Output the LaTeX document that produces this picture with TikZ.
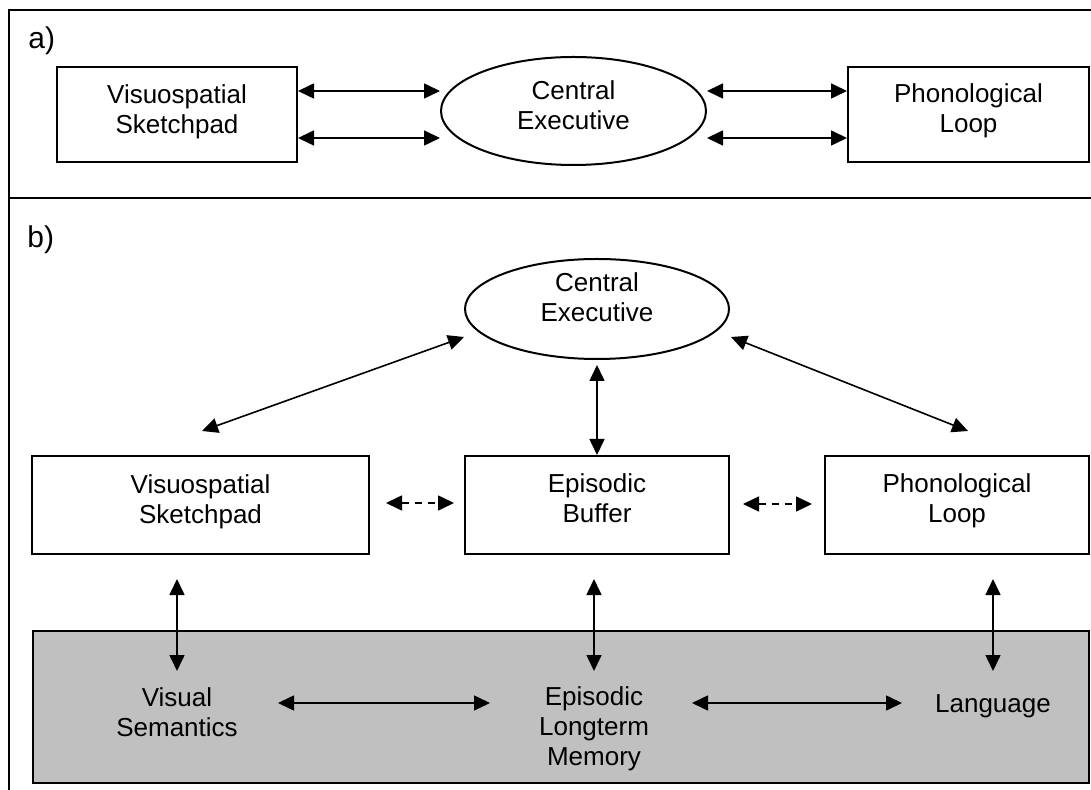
\documentclass[tikz,border=0pt]{standalone}
\usepackage{fontspec}
\setmainfont{Liberation Sans}
\usetikzlibrary{arrows.meta,shapes.geometric,calc}
\definecolor{shade}{HTML}{C0C0C0}

\begin{document}
\begin{tikzpicture}[x=0.5pt,y=-0.5pt,
  txt/.style={font=\fontsize{13}{15}\selectfont},
  box/.style={draw,line width=1pt,rectangle,inner sep=0pt},
  oval/.style={draw,line width=1pt,ellipse,inner sep=0pt},
  lbl/.style={align=center,inner sep=0pt,txt},
  inside/.style 2 args={label={[lbl,yshift=#1]center:{#2}}},
  panel/.style={inner sep=0pt,font=\fontsize{15}{18}\selectfont},
  frame/.style={line width=1pt},
  link/.style={line width=0.8pt,{Triangle[length=8pt,width=7.5pt]}-{Triangle[length=8pt,width=7.5pt]}},
  dlink/.style={link,dash pattern=on 3.5pt off 3pt}]

\useasboundingbox (0,0) rectangle (1091,790);
\clip (0,0) rectangle (1091,790);

% outer frame and divider between the two panels
\draw[frame] (1100,10) -- (9,10) -- (9,800);
\draw[frame] (9,198) -- (1100,198);

% ---------- panel a ----------
\node[panel,anchor=base west] (labA) at (28,49) {a)};
\node[box,minimum width=120pt,minimum height=47.5pt,inside={1.5pt}{Visuospatial\\Sketchpad}] (vsA) at (177,114.5) {};
\node[oval,minimum width=132.5pt,minimum height=54pt,inside={3pt}{Central\\Executive}] (ceA) at (573.5,111) {};
\node[box,minimum width=120.5pt,minimum height=47.5pt,inside={2pt}{Phonological\\Loop}] (phA) at (968.5,114.5) {};

\coordinate (rA1) at (0,91);
\coordinate (rA2) at (0,138);
\draw[link] (vsA.east |- rA1) -- (ceA.west |- rA1);
\draw[link] (vsA.east |- rA2) -- (ceA.west |- rA2);
\draw[link] (ceA.east |- rA1) -- (phA.west |- rA1);
\draw[link] (ceA.east |- rA2) -- (phA.west |- rA2);

% ---------- panel b ----------
\node[panel,anchor=base west] (labB) at (27,248) {b)};
\node[oval,minimum width=132pt,minimum height=50pt,inside={6pt}{Central\\Executive}] (ceB) at (597,309) {};
\node[box,minimum width=168.5pt,minimum height=49pt,inside={1.5pt}{Visuospatial\\Sketchpad}] (vsB) at (200.5,505) {};
\node[box,minimum width=132pt,minimum height=49pt,inside={3.5pt}{Episodic\\Buffer}] (ebB) at (597,505) {};
\node[box,minimum width=132pt,minimum height=49pt,inside={2pt}{Phonological\\Loop}] (plB) at (957,505) {};

% long-term memory band
\node[draw,fill=shade,line width=1pt,inner sep=0pt,minimum width=528pt,minimum height=76pt] (ltm) at (561,707) {};
\node[lbl] (visSem) at (177,712) {Visual\\Semantics};
\node[lbl] (eltm) at (594,729) {Episodic\\Longterm\\Memory};
\node[lbl] (lang) at (993,706) {Language};

% executive links
\draw[link] ($(vsB.north)+(1.5,-24)$) -- ($(ceB.center)+(-133,28)$);
\draw[link] ($(ceB.center)+(134,28)$) -- ($(plB.north)+(11,-24)$);
\draw[link] ($(ceB.south)+(0,5)$) -- (ebB.north);

% buffer links
\draw[dlink] ($(vsB.east)+(16,-2)$) -- ($(ebB.west)+(-10,-2)$);
\draw[dlink] ($(ebB.east)+(13,-1)$) -- ($(plB.west)+(-12,-1)$);

% links down into long-term memory
\draw[link] ($(vsB.south -| visSem)+(0,24)$) -- ($(visSem.center)+(0,-41)$);
\draw[link] ($(ebB.south -| eltm)+(0,24)$) -- ($(eltm.center)+(0,-58)$);
\draw[link] ($(plB.south -| lang)+(0,24)$) -- ($(lang.center)+(0,-35)$);

% links within long-term memory
\coordinate (rB) at (0,703);
\draw[link] ($(visSem.center |- rB)+(101,0)$) -- ($(eltm.center |- rB)+(-104,0)$);
\draw[link] ($(eltm.center |- rB)+(98,0)$) -- ($(lang.center |- rB)+(-91,0)$);
\end{tikzpicture}
\end{document}
